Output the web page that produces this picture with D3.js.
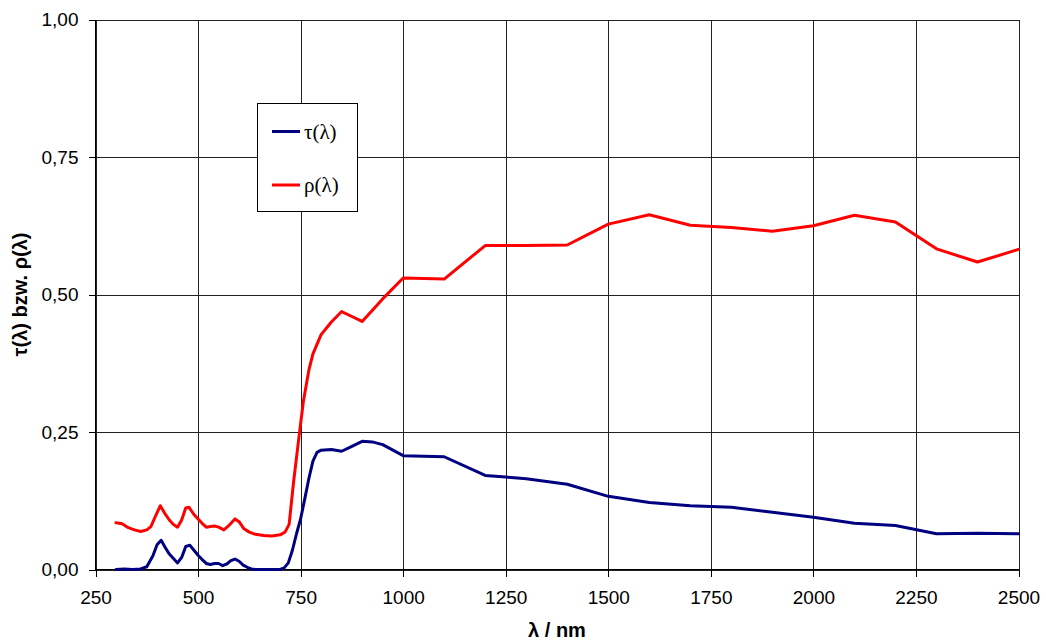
<!DOCTYPE html>
<html>
<head>
<meta charset="utf-8">
<script src="https://cdn.jsdelivr.net/npm/d3@7"></script>
<style>
  html, body { margin: 0; padding: 0; background: #fff; }
  svg { display: block; }
</style>
</head>
<body>
<svg id="chart" width="1046" height="643"></svg>
<script>
// ---- data ----
const xTicks = [250, 500, 750, 1000, 1250, 1500, 1750, 2000, 2250, 2500];
const yTicks = [0, 0.25, 0.5, 0.75, 1.0];

const tauLambda = [300,320,340,360,375,390,400,410,420,430,440,450,460,470,480,490,500,510,520,530,540,550,560,570,580,590,600,610,620,630,640,660,680,700,710,720,730,740,750,760,770,780,790,800,825,850,875,900,925,950,1000,1100,1200,1250,1300,1400,1500,1600,1700,1800,1900,2000,2100,2200,2300,2400,2500];
const tauValues = [0.000,0.001,0.000,0.001,0.005,0.025,0.045,0.053,0.040,0.028,0.020,0.012,0.022,0.042,0.044,0.035,0.026,0.018,0.011,0.009,0.011,0.011,0.007,0.010,0.016,0.019,0.015,0.008,0.004,0.001,0.000,0.000,0.000,0.000,0.003,0.012,0.035,0.065,0.092,0.128,0.165,0.197,0.213,0.217,0.218,0.215,0.224,0.233,0.232,0.227,0.207,0.205,0.171,0.168,0.165,0.155,0.133,0.122,0.116,0.113,0.104,0.095,0.084,0.080,0.065,0.066,0.065];

const rhoLambda = [300,315,330,345,360,375,385,395,408,418,430,440,450,460,470,478,490,500,510,520,530,540,550,563,575,590,600,612,625,640,660,680,700,712,722,733,747,757,770,780,800,825,850,875,900,950,1000,1100,1200,1300,1400,1500,1600,1700,1800,1900,2000,2100,2200,2300,2400,2500];
const rhoValues = [0.085,0.083,0.076,0.072,0.069,0.072,0.078,0.095,0.116,0.103,0.090,0.082,0.077,0.090,0.112,0.113,0.100,0.092,0.084,0.077,0.078,0.079,0.077,0.072,0.080,0.092,0.087,0.074,0.068,0.064,0.062,0.061,0.063,0.068,0.082,0.160,0.247,0.307,0.362,0.392,0.427,0.450,0.469,0.460,0.451,0.492,0.530,0.528,0.589,0.589,0.590,0.628,0.645,0.626,0.622,0.615,0.625,0.644,0.632,0.583,0.559,0.582];

const seriesNames = ["τ(λ)", "ρ(λ)"];
const seriesColors = ["#000080", "#ff0000"];

// ---- chart ----
const svg = d3.select("#chart");
const pLeft = 95.5, pRight = 1018.5, pTop = 19.5, pBottom = 569.5;

const x = d3.scaleLinear().domain([250, 2500]).range([pLeft, pRight]);
const y = d3.scaleLinear().domain([0, 1]).range([pBottom, pTop]);

// grid
const grid = svg.append("g").attr("stroke", "#222").attr("stroke-width", 1).attr("shape-rendering", "crispEdges");
grid.selectAll("line.v").data(xTicks).enter().append("line")
  .attr("x1", d => Math.round(x(d)) + 0.5).attr("x2", d => Math.round(x(d)) + 0.5)
  .attr("y1", pTop).attr("y2", pBottom);
grid.selectAll("line.h").data(yTicks).enter().append("line")
  .attr("x1", pLeft).attr("x2", pRight)
  .attr("y1", d => Math.round(y(d)) + 0.5).attr("y2", d => Math.round(y(d)) + 0.5);

// axes
const xAxis = d3.axisBottom(x).tickValues(xTicks).tickSize(7).tickPadding(14).tickFormat(d3.format("d"));
const yAxis = d3.axisLeft(y).tickValues(yTicks).tickSize(7).tickPadding(10).tickFormat(d => d3.format(".2f")(d).replace(".", ","));

const gx = svg.append("g").attr("transform", `translate(0,${pBottom})`).call(xAxis);
const gy = svg.append("g").attr("transform", `translate(${pLeft},0)`).call(yAxis);
[gx, gy].forEach(g => {
  g.select(".domain").attr("stroke", "#000").attr("shape-rendering", "crispEdges");
  g.selectAll(".tick line").attr("stroke", "#000").attr("shape-rendering", "crispEdges");
  g.selectAll(".tick text").attr("fill", "#000")
    .style("font-family", "'Liberation Sans', Arial, sans-serif").style("font-size", "19px");
});
gx.select(".domain").attr("d", `M${pLeft},0H${pRight}`);
gy.select(".domain").attr("d", `M0,${pTop}V${pBottom}`);

// lines
const line = d3.line().x(d => x(d[0])).y(d => y(d[1]));
const tauData = d3.zip(tauLambda, tauValues);
const rhoData = d3.zip(rhoLambda, rhoValues);
[tauData, rhoData].forEach((data, i) => {
  svg.append("path").datum(data)
    .attr("fill", "none").attr("stroke", seriesColors[i])
    .attr("stroke-width", 3).attr("stroke-linejoin", "round").attr("stroke-linecap", "round")
    .attr("d", line);
});

// axis titles
svg.append("text").attr("x", (pLeft + pRight) / 2).attr("y", 637)
  .attr("text-anchor", "middle")
  .style("font-family", "'Liberation Sans', Arial, sans-serif").style("font-size", "20px").style("font-weight", "bold")
  .text("λ / nm");
svg.append("text").attr("transform", `translate(27,${(pTop + pBottom) / 2}) rotate(-90)`)
  .attr("text-anchor", "middle")
  .style("font-family", "'Liberation Sans', Arial, sans-serif").style("font-size", "20px").style("font-weight", "bold")
  .text("τ(λ) bzw. ρ(λ)");

// legend
const lg = svg.append("g");
lg.append("rect").attr("x", 257.5).attr("y", 103.5).attr("width", 100).attr("height", 108)
  .attr("fill", "#fff").attr("stroke", "#000").attr("stroke-width", 1).attr("shape-rendering", "crispEdges");
const legendY = [131.5, 185];
seriesNames.forEach((name, i) => {
  lg.append("line").attr("x1", 272).attr("x2", 300).attr("y1", legendY[i]).attr("y2", legendY[i])
    .attr("stroke", seriesColors[i]).attr("stroke-width", 3);
  lg.append("text").attr("x", 304).attr("y", legendY[i] + 7)
    .style("font-family", "'Liberation Serif', 'Times New Roman', serif").style("font-size", "21px")
    .attr("fill", "#000").text(name);
});
</script>
</body>
</html>
